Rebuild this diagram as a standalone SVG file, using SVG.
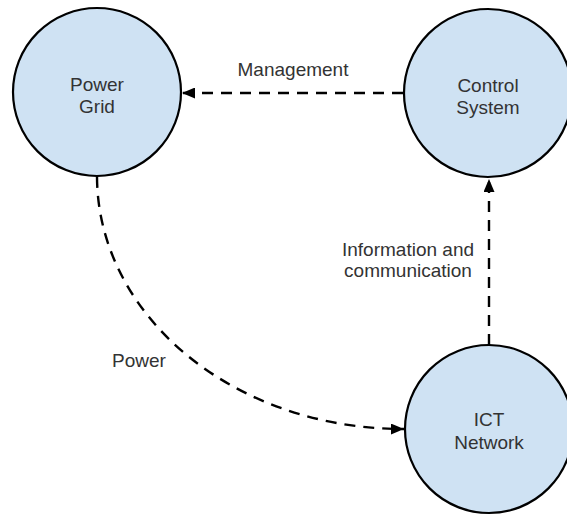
<svg xmlns="http://www.w3.org/2000/svg" width="567" height="517" viewBox="0 0 567 517">
  <style>
    .node { fill: #cfe2f3; stroke: #000; stroke-width: 2.2; }
    .label { font-family: "Liberation Sans", Arial, sans-serif; font-size: 19px; fill: #333; text-anchor: middle; }
    .edge { fill: none; stroke: #000; stroke-width: 2.4; stroke-dasharray: 11 8; }
  </style>
  <defs>
    <marker id="arrow" viewBox="0 0 13 11" refX="13" refY="5.5" markerWidth="13" markerHeight="11" markerUnits="userSpaceOnUse" orient="auto">
      <path d="M0,0 L13,5.5 L0,11 Z" fill="#000"/>
    </marker>
  </defs>

  <rect width="567" height="517" fill="#fff"/>

  <g id="connectors">
    <!-- Control System -> Power Grid -->
    <path class="edge" d="M403,93 L182,93" marker-end="url(#arrow)"/>
    <!-- ICT Network -> Control System -->
    <path class="edge" d="M489,345 L489,179" marker-end="url(#arrow)"/>
    <!-- Power Grid -> ICT Network -->
    <path class="edge" d="M97,177 A306,253 0 0 0 404,429" marker-end="url(#arrow)"/>
    <text class="label" x="293" y="76">Management</text>
    <text class="label" x="408" y="256">Information and</text>
    <text class="label" x="408" y="277">communication</text>
    <text class="label" x="139" y="367">Power</text>
  </g>

  <g id="power-grid">
    <circle class="node" cx="97" cy="92" r="84"/>
    <text class="label" x="97" y="91">Power</text>
    <text class="label" x="97" y="113">Grid</text>
  </g>

  <g id="control-system">
    <circle class="node" cx="488" cy="93" r="84"/>
    <text class="label" x="488" y="92">Control</text>
    <text class="label" x="488" y="114">System</text>
  </g>

  <g id="ict-network">
    <circle class="node" cx="489" cy="429" r="84"/>
    <text class="label" x="489" y="426">ICT</text>
    <text class="label" x="489" y="449">Network</text>
  </g>
</svg>
